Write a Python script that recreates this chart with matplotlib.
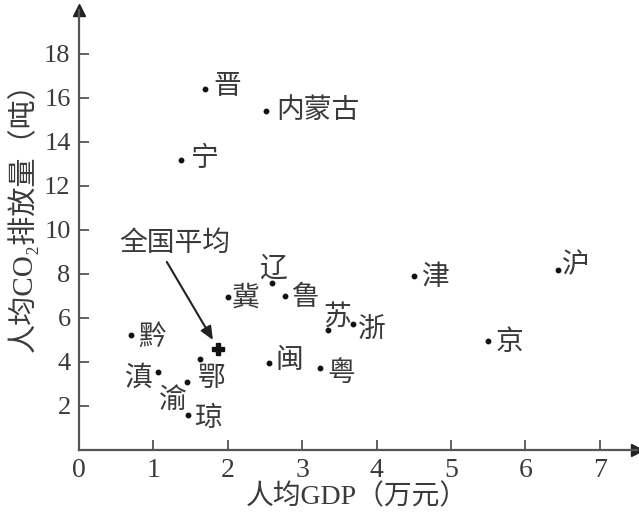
import matplotlib
matplotlib.use('Agg')
import matplotlib.pyplot as plt

# ---- data ----
provinces = ['晋', '内蒙古', '宁', '辽', '冀', '鲁', '苏', '浙', '黔', '滇',
             '鄂', '渝', '琼', '闽', '粤', '津', '京', '沪']
gdp = [1.69, 2.51, 1.37, 2.59, 2.00, 2.77, 3.35, 3.68, 0.70, 1.06,
       1.62, 1.45, 1.46, 2.56, 3.24, 4.50, 5.50, 6.44]
co2 = [16.41, 15.39, 13.18, 7.58, 6.97, 7.01, 5.45, 5.71, 5.23, 3.53,
       4.14, 3.10, 1.59, 3.94, 3.71, 7.92, 4.95, 8.18]
avg_label = '全国平均'
avg_gdp = 1.87
avg_co2 = 4.59
x_ticks = [0, 1, 2, 3, 4, 5, 6, 7]
y_ticks = [2, 4, 6, 8, 10, 12, 14, 16, 18]
x_title = '人均GDP（万元）'
y_title = '人均CO₂排放量（吨）'

# label offsets (pixels, text centre relative to the dot)
offsets = {'晋': (23, 3), '内蒙古': (52, 1), '宁': (24, 2), '辽': (1, 15),
           '冀': (18, -1), '鲁': (21, -1), '苏': (9, 13), '浙': (19, -6),
           '黔': (21, -2), '滇': (-20, -5), '鄂': (12, -19), '渝': (-14, -18),
           '琼': (20, -3), '闽': (20, 3), '粤': (21, -5), '津': (21, -1),
           '京': (21, -1), '沪': (18, 5)}

CJK = ['Noto Sans CJK SC', 'DejaVu Sans']
MIX = ['Liberation Serif', 'Noto Sans CJK SC', 'DejaVu Sans']
TXT = '#3a3a3a'
AX = '#555555'

fig = plt.figure(figsize=(6.39, 5.15), dpi=100)
ax = fig.add_axes([79/639, 65/515, 558/639, 440/515])
ax.set_xlim(0, 7.5)
ax.set_ylim(0, 20)

for s in ('top', 'right'):
    ax.spines[s].set_visible(False)
for s in ('left', 'bottom'):
    ax.spines[s].set_color(AX)
    ax.spines[s].set_linewidth(1.6)
ax.plot(1, 0, '>', color='#222222', ms=9, transform=ax.get_yaxis_transform(), clip_on=False)
ax.plot(0, 1, '^', color='#222222', ms=9, transform=ax.get_xaxis_transform(), clip_on=False)

ax.set_xticks(x_ticks)
ax.set_yticks(y_ticks)
ax.tick_params(direction='in', length=7, width=1.3, color=AX, labelcolor=TXT, pad=6)
for lab in ax.get_xticklabels():
    lab.set_fontfamily('Liberation Serif')
    lab.set_fontsize(20)
for lab in ax.get_yticklabels():
    lab.set_fontfamily('Liberation Serif')
    lab.set_fontsize(19)

ax.plot(gdp, co2, 'o', color='#111111', ms=3.2, ls='none')
for name, x, y in zip(provinces, gdp, co2):
    dx, dy = offsets[name]
    ax.annotate(name, (x, y), xytext=(dx, dy), textcoords='offset pixels',
                ha='center', va='center', fontsize=20, family=CJK, color=TXT)

ax.plot([avg_gdp], [avg_co2], 'P', color='#111111', ms=8, mec='#111111')
ax.text(1.29, 9.41, avg_label, ha='center', va='center', fontsize=20,
        family=CJK, color=TXT)
ax.annotate('', xy=(1.80, 5.0), xytext=(1.18, 8.55),
            arrowprops=dict(arrowstyle='-|>,head_length=0.8,head_width=0.35',
                            color='#222222', lw=1.5, shrinkA=0, shrinkB=0))

fig.text(357/639, 1 - 497/515, x_title, ha='center', va='center',
         fontsize=20, family=MIX, color=TXT)
fig.text(22/639, 1 - 210/515, y_title, ha='center', va='center', rotation=90,
         fontsize=21, family=MIX, color=TXT)

fig.savefig('out.png', dpi=100)
